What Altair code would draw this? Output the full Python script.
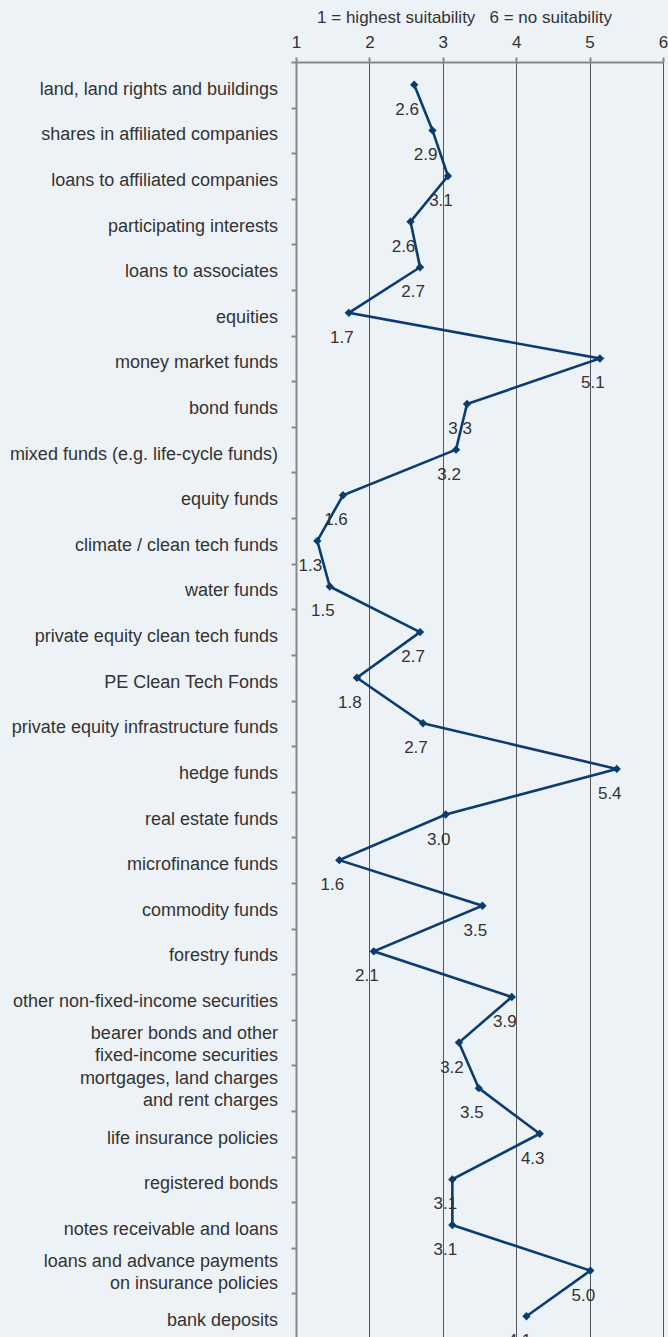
import altair as alt
import pandas as pd

categories = [
    "land, land rights and buildings",
    "shares in affiliated companies",
    "loans to affiliated companies",
    "participating interests",
    "loans to associates",
    "equities",
    "money market funds",
    "bond funds ",
    "mixed funds (e.g. life-cycle funds)",
    "equity funds",
    "climate / clean tech funds",
    "water funds",
    "private equity clean tech funds",
    "PE Clean Tech Fonds",
    "private equity infrastructure funds",
    "hedge funds",
    "real estate funds",
    "microfinance funds",
    "commodity funds",
    "forestry funds",
    "other non-fixed-income securities",
    "bearer bonds and other|fixed-income securities",
    "mortgages, land charges|and rent charges",
    "life insurance policies",
    "registered bonds",
    "notes receivable and loans",
    "loans and advance payments|on insurance policies",
    "bank deposits",
]

values = [
    2.61, 2.86, 3.07, 2.56, 2.69, 1.72, 5.14, 3.33, 3.18, 1.64,
    1.29, 1.46, 2.69, 1.83, 2.73, 5.37, 3.04, 1.59, 3.54, 2.06,
    3.94, 3.22, 3.49, 4.32, 3.13, 3.13, 5.01, 4.14,
]

x_ticks = [1, 2, 3, 4, 5, 6]

df = pd.DataFrame({"category": categories, "value": values, "idx": list(range(len(values)))})

LINE = "#0b3c6f"
TEXT = "#333333"
FONT = "Liberation Sans"
WIDTH = 367
HEIGHT = 1277
HALF_STEP = HEIGHT / len(categories) / 2

y_scale = alt.Scale(type="band", paddingInner=0, paddingOuter=0)

y_enc = alt.Y(
    "category:N",
    sort=None,
    scale=y_scale,
    axis=alt.Axis(
        title=None,
        labels=False,
        tickBand="extent",
        tickSize=5,
        tickColor="#888888",
        tickWidth=2,
        domainColor="#888888",
        domainWidth=2,
        grid=False,
    ),
)

x_enc = alt.X(
    "value:Q",
    scale=alt.Scale(domain=[1, 6], nice=False, zero=False),
    axis=alt.Axis(
        orient="top",
        values=x_ticks,
        format="d",
        title="1 = highest suitability\u00a0\u00a0\u00a06 = no suitability",
        titleFont=FONT,
        titleFontSize=17,
        titleFontWeight="normal",
        titleColor=TEXT,
        titleX=168,
        titleY=-45,
        titleAlign="center",
        titleBaseline="middle",
        labelFont=FONT,
        labelFontSize=17,
        labelColor=TEXT,
        labelPadding=6,
        labelFlush=False,
        tickSize=5,
        tickColor="#888888",
        tickWidth=2,
        domainColor="#888888",
        domainWidth=2,
        grid=True,
        gridColor="#555555",
        gridWidth=1,
    ),
)

base = alt.Chart(df).encode(y=y_enc, x=x_enc)

line = base.mark_line(color=LINE, strokeWidth=2.6).encode(order=alt.Order("idx:Q"))
pts = base.mark_point(shape="diamond", filled=True, size=70, color=LINE, opacity=1)
labels = base.mark_text(dx=-7, dy=25, fontSize=17, color=TEXT, font=FONT).encode(
    text=alt.Text("value:Q", format=".1f")
)

cat_labels = (
    alt.Chart(df)
    .transform_calculate(
        lines="split(datum.category, '|')",
        off=f"{HALF_STEP:.2f} - 4 - 14 * (length(split(datum.category, '|')) - 1)",
    )
    .mark_text(align="right", baseline="top", fontSize=18, font=FONT, color=TEXT, lineHeight=22)
    .encode(
        y=y_enc,
        yOffset=alt.YOffset("off:Q", scale=None),
        x=alt.value(-18),
        text="lines:N",
    )
)

chart = (
    alt.layer(line, pts, labels, cat_labels)
    .properties(
        width=WIDTH,
        height=HEIGHT,
        background="#edf2f7",
        padding={"left": 296, "top": 62, "right": 5, "bottom": 0},
        autosize=alt.AutoSizeParams(type="none"),
    )
    .configure_view(stroke="transparent")
)

chart.save("out.html", embed_options={"renderer": "svg", "actions": False})
